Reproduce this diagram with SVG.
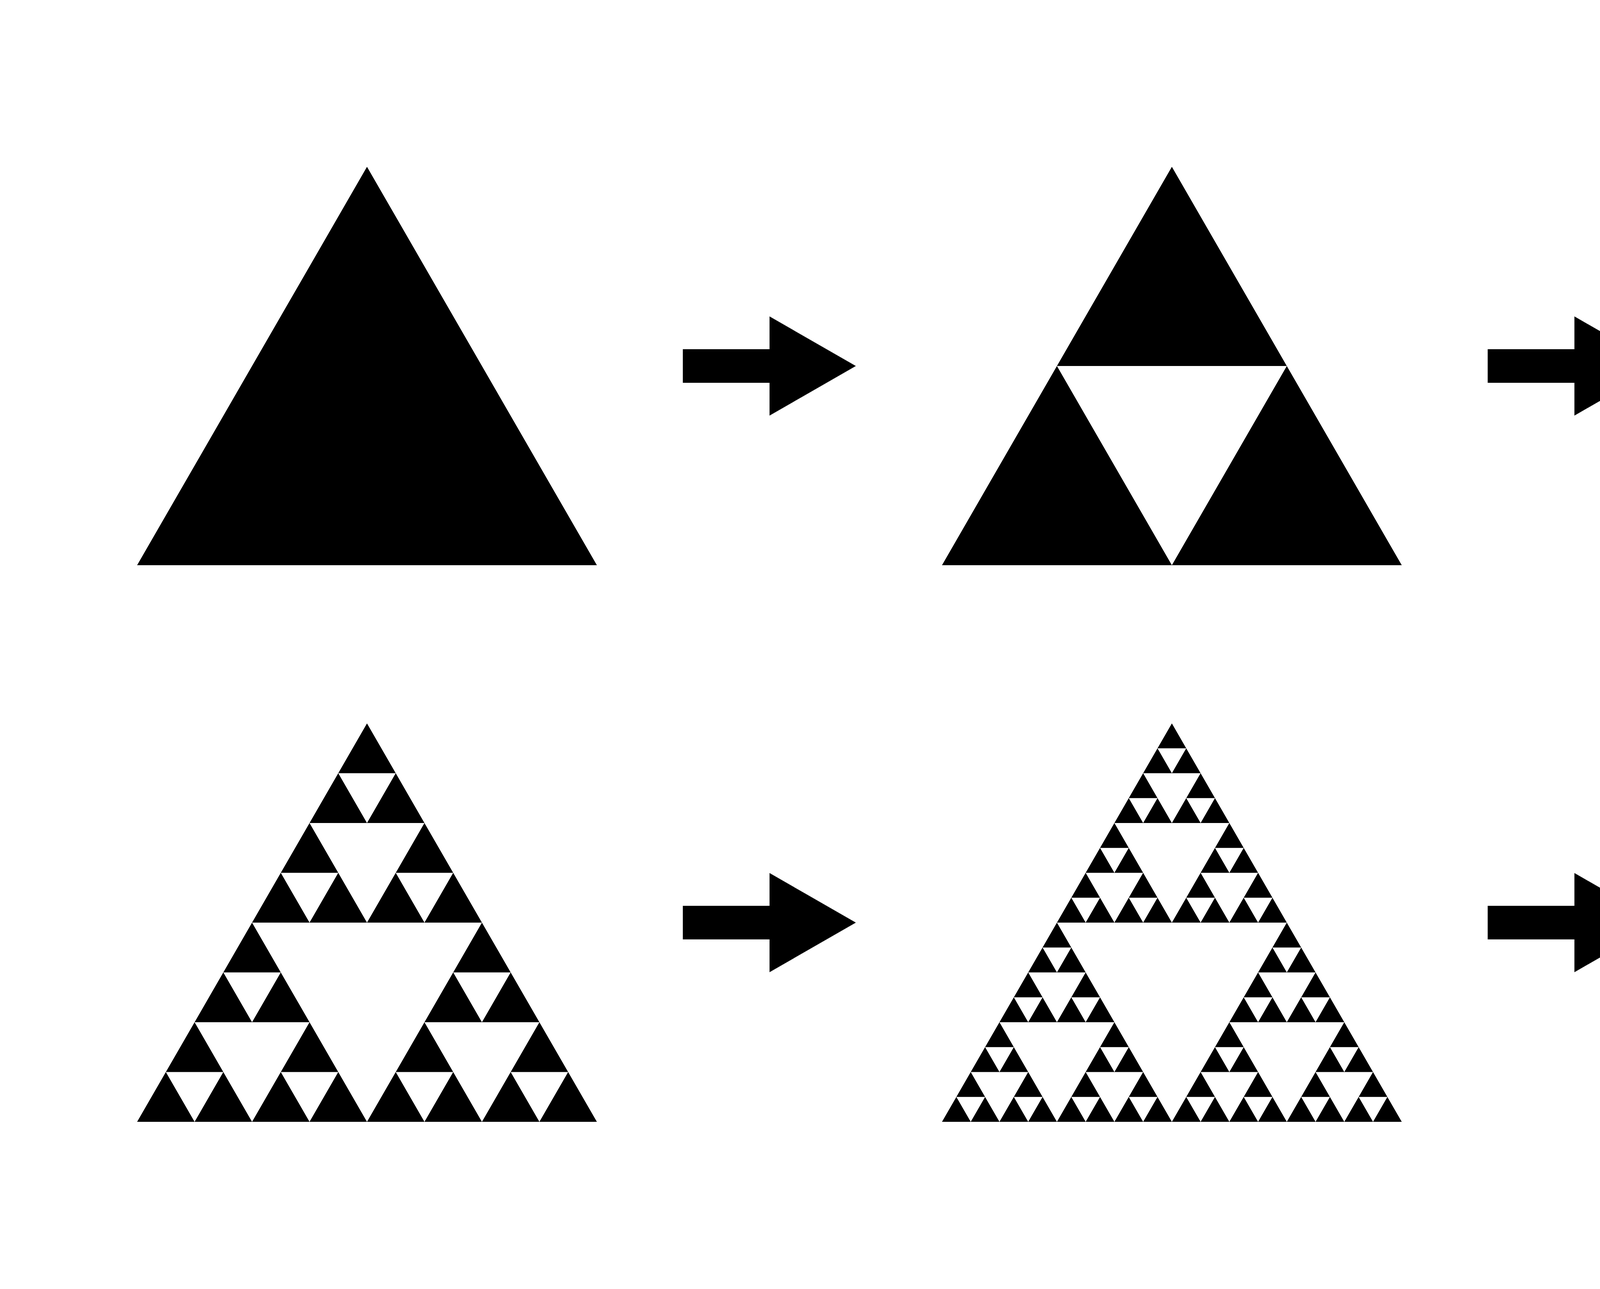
<svg xmlns="http://www.w3.org/2000/svg" xmlns:xlink="http://www.w3.org/1999/xlink" width="6000" height="3300" viewBox="0 0 6000 3300">
<style>
.blk{fill:#000}
.hole{fill:#fff}
</style>
<defs>
<polygon id="tri" class="blk" points="0,0 588.5,1020 -588.5,1020"/>
<polygon id="h1" class="hole" points="-294.25,510 294.25,510 0,1020"/>
<g id="h2"><use href="#h1"/><use href="#h1" transform="scale(0.5)"/><use href="#h1" transform="translate(-294.25,510) scale(0.5)"/><use href="#h1" transform="translate(294.25,510) scale(0.5)"/></g>
<g id="h3"><use href="#h1"/><use href="#h2" transform="scale(0.5)"/><use href="#h2" transform="translate(-294.25,510) scale(0.5)"/><use href="#h2" transform="translate(294.25,510) scale(0.5)"/></g>
<g id="h4"><use href="#h1"/><use href="#h3" transform="scale(0.5)"/><use href="#h3" transform="translate(-294.25,510) scale(0.5)"/><use href="#h3" transform="translate(294.25,510) scale(0.5)"/></g>
<g id="h5"><use href="#h1"/><use href="#h4" transform="scale(0.5)"/><use href="#h4" transform="translate(-294.25,510) scale(0.5)"/><use href="#h4" transform="translate(294.25,510) scale(0.5)"/></g>
<polygon id="arrow" class="blk" points="0,-43 222,-43 222,-127 443,0 222,127 222,43 0,43"/>
</defs>
<rect width="6000" height="3300" fill="#fff"/>
<g id="level0" transform="translate(939.5,427)"><use href="#tri"/></g>
<g id="level1" transform="translate(3000,427)"><use href="#tri"/><use href="#h1"/></g>
<g id="level2" transform="translate(5060.5,427)"><use href="#tri"/><use href="#h2"/></g>
<g id="level3" transform="translate(939.5,1852)"><use href="#tri"/><use href="#h3"/></g>
<g id="level4" transform="translate(3000,1852)"><use href="#tri"/><use href="#h4"/></g>
<g id="level5" transform="translate(5060.5,1852)"><use href="#tri"/><use href="#h5"/></g>
<g id="connectors">
<use href="#arrow" transform="translate(1748,937)"/>
<use href="#arrow" transform="translate(3808.5,937)"/>
<use href="#arrow" transform="translate(1748,2362)"/>
<use href="#arrow" transform="translate(3808.5,2362)"/>
</g>
</svg>
